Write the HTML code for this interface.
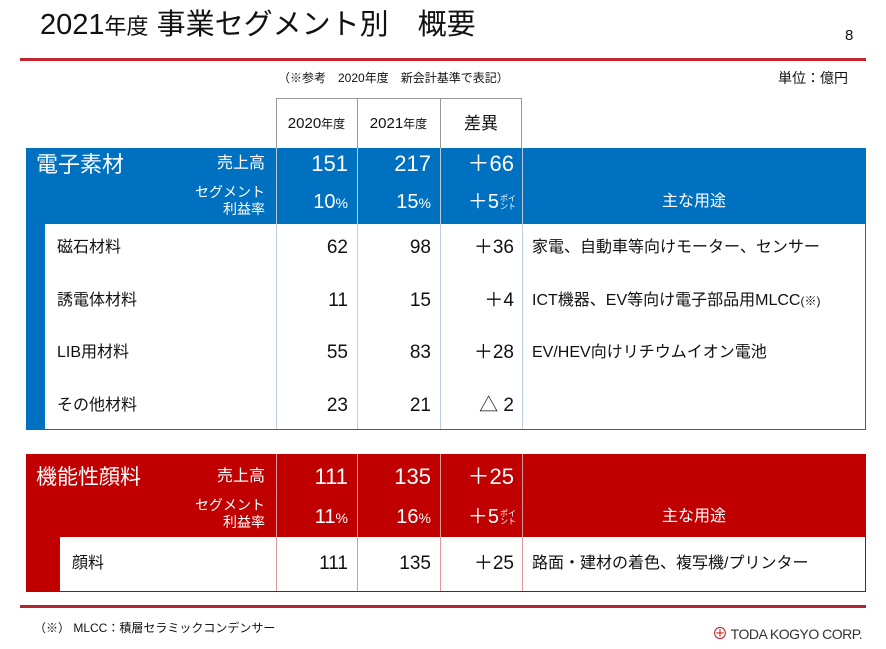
<!DOCTYPE html>
<html><head><meta charset="utf-8">
<style>
body{margin:0;width:886px;height:649px;background:#fff;position:relative;overflow:hidden;font-family:"Liberation Sans","Noto Sans CJK JP",sans-serif;color:#111}
div{position:absolute;box-sizing:border-box}
.t{white-space:nowrap;line-height:24px}
.r{text-align:right}
.c{text-align:center}
.w{color:#fff}
.vl{width:1px;background:#999}
.pt{font-size:8px;display:inline-block;line-height:8px;vertical-align:middle;margin-left:1px;text-align:left}
</style></head><body>
<div class="t" style="left:40px;top:8px;font-size:29px;line-height:34px">2021<span style="font-size:22px">年度</span> 事業セグメント別　概要</div>
<div class="t" style="left:845px;top:24px;font-size:15px">8</div>
<div style="left:20px;top:58px;width:846px;height:3px;background:#c0262d"></div>
<div class="t" style="left:278px;top:66px;font-size:12px">（※参考　2020年度　新会計基準で表記）</div>
<div class="t" style="left:778px;top:66px;font-size:14px">単位：億円</div>

<div style="left:276px;top:98px;width:246px;height:52px;border:1px solid #999;border-bottom:none"></div>
<div class="vl" style="left:357px;top:98px;height:52px"></div>
<div class="vl" style="left:440px;top:98px;height:52px"></div>
<div class="t c" style="left:276px;top:112px;width:81px;font-size:15px">2020<span style="font-size:12px">年度</span></div>
<div class="t c" style="left:357px;top:112px;width:83px;font-size:15px">2021<span style="font-size:12px">年度</span></div>
<div class="t c" style="left:440px;top:112px;width:82px;font-size:17px">差異</div>

<div style="left:26px;top:148px;width:840px;height:282px;background:#0070c0"></div>
<div style="left:45px;top:224px;width:820px;height:205px;background:#fff"></div>
<div class="vl" style="left:276px;top:148px;height:281px;background:#bcd"></div>
<div class="vl" style="left:357px;top:148px;height:281px;background:#bcd"></div>
<div class="vl" style="left:440px;top:148px;height:281px;background:#bcd"></div>
<div class="vl" style="left:522px;top:148px;height:281px;background:#bcd"></div>
<div class="t w" style="left:36px;top:150px;font-size:22px;line-height:30px">電子素材</div>
<div class="t w r" style="left:150px;width:115px;top:152px;font-size:16px">売上高</div>
<div class="t w r" style="left:150px;width:115px;top:184px;font-size:14px;line-height:17px">セグメント<br>利益率</div>
<div class="t w r" style="left:276px;width:72px;top:152px;font-size:22px">151</div>
<div class="t w r" style="left:357px;width:74px;top:152px;font-size:22px">217</div>
<div class="t w r" style="left:440px;width:74px;top:152px;font-size:22px">＋66</div>
<div class="t w r" style="left:276px;width:72px;top:190px;font-size:20px">10<span style="font-size:14px">%</span></div>
<div class="t w r" style="left:357px;width:74px;top:190px;font-size:20px">15<span style="font-size:14px">%</span></div>
<div class="t w r" style="left:440px;width:76px;top:190px;font-size:20px">＋5<span class="pt">ポイ<br>ント</span></div>
<div class="t w c" style="left:522px;width:344px;top:190px;font-size:16px">主な用途</div>

<div id="erows"></div>

<div style="left:26px;top:454px;width:840px;height:138px;background:#c00000"></div>
<div style="left:60px;top:537px;width:805px;height:54px;background:#fff"></div>
<div class="vl" style="left:276px;top:454px;height:137px;background:#d99"></div>
<div class="vl" style="left:357px;top:454px;height:137px;background:#d99"></div>
<div class="vl" style="left:440px;top:454px;height:137px;background:#d99"></div>
<div class="vl" style="left:522px;top:454px;height:137px;background:#d99"></div>
<div class="t w" style="left:36px;top:463px;font-size:21px;line-height:30px">機能性顔料</div>
<div class="t w r" style="left:150px;width:115px;top:465px;font-size:16px">売上高</div>
<div class="t w r" style="left:150px;width:115px;top:497px;font-size:14px;line-height:17px">セグメント<br>利益率</div>
<div class="t w r" style="left:276px;width:72px;top:465px;font-size:22px">111</div>
<div class="t w r" style="left:357px;width:74px;top:465px;font-size:22px">135</div>
<div class="t w r" style="left:440px;width:74px;top:465px;font-size:22px">＋25</div>
<div class="t w r" style="left:276px;width:72px;top:505px;font-size:20px">11<span style="font-size:14px">%</span></div>
<div class="t w r" style="left:357px;width:74px;top:505px;font-size:20px">16<span style="font-size:14px">%</span></div>
<div class="t w r" style="left:440px;width:76px;top:505px;font-size:20px">＋5<span class="pt">ポイ<br>ント</span></div>
<div class="t w c" style="left:522px;width:344px;top:505px;font-size:16px">主な用途</div>
<div class="t" style="left:72px;top:552px;font-size:16px">顔料</div>
<div class="t r" style="left:276px;width:72px;top:552px;font-size:19px">111</div>
<div class="t r" style="left:357px;width:74px;top:552px;font-size:19px">135</div>
<div class="t r" style="left:440px;width:74px;top:552px;font-size:19px">＋25</div>
<div class="t" style="left:532px;top:552px;font-size:16px">路面・建材の着色、複写機/プリンター</div>

<div style="left:20px;top:605px;width:846px;height:3px;background:#b0262d"></div>
<div class="t" style="left:34px;top:616px;font-size:12px">（※） MLCC：積層セラミックコンデンサー</div>
<div class="t" style="left:712px;top:622px;font-size:14px;color:#333;letter-spacing:-0.5px"><span style="color:#c0262d;font-size:16px">⊕</span> TODA KOGYO CORP.</div>

<script>
const names=["磁石材料","誘電体材料","LIB用材料","その他材料"];
const v2020=["62","11","55","23"];
const v2021=["98","15","83","21"];
const diffs=["＋36","＋4","＋28","△ 2"];
const uses=["家電、自動車等向けモーター、センサー","ICT機器、EV等向け電子部品用MLCC<span style='font-size:12px'>(※)</span>","EV/HEV向けリチウムイオン電池",""];
const host=document.getElementById('erows');
names.forEach((n,i)=>{
  const y=236+i*52.5;
  const mk=(html,left,width,cls,fs)=>{
    const d=document.createElement('div');
    d.className='t '+cls;
    d.style.cssText=`left:${left}px;top:${y}px;${width?'width:'+width+'px;':''}font-size:${fs}px`;
    d.innerHTML=html;
    
    
    host.appendChild(d);
  };
  mk(n,57,0,'',16);
  mk(v2020[i],276,72,'r',19);
  mk(v2021[i],357,74,'r',19);
  mk(diffs[i],440,74,'r',19);
  mk(uses[i],532,0,'',16);
});
</script>
</body></html>
